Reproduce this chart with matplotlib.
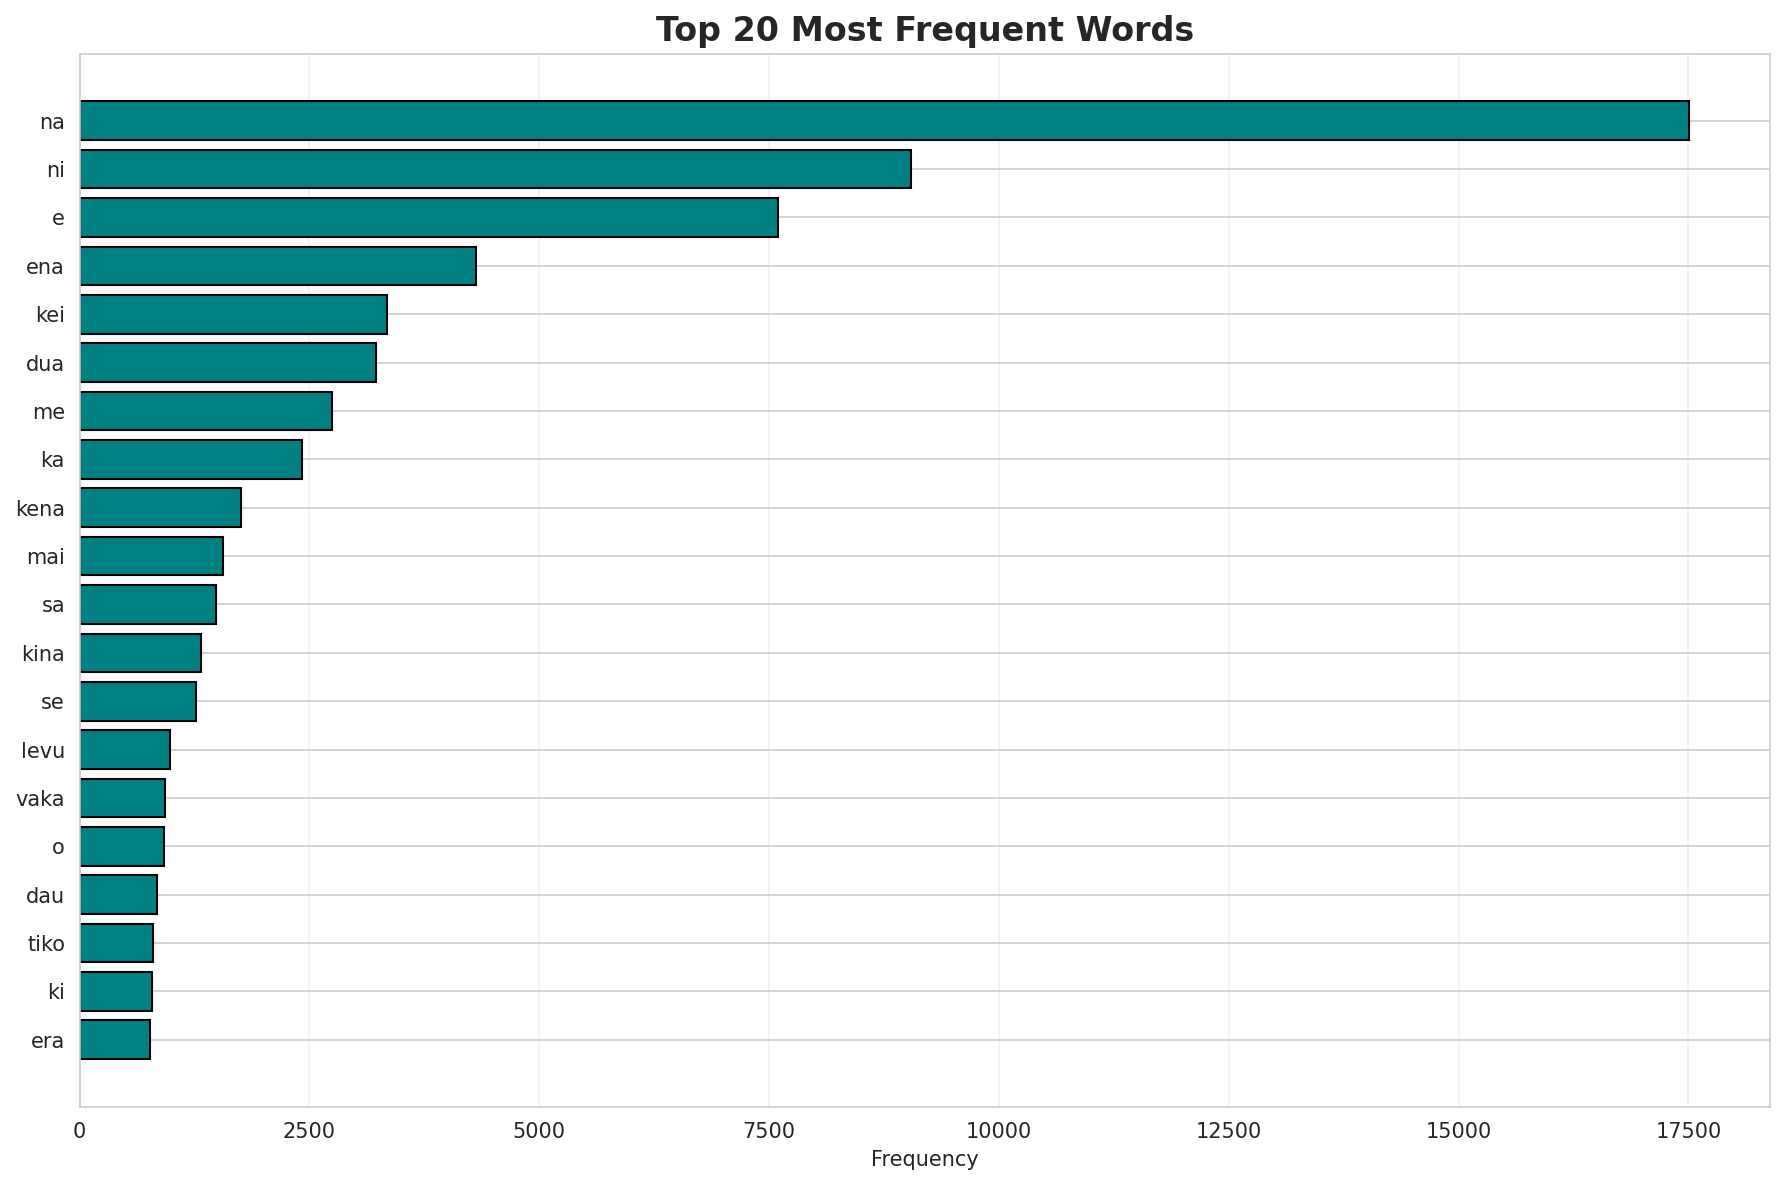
import matplotlib.pyplot as plt
import seaborn as sns

words = ['na', 'ni', 'e', 'ena', 'kei', 'dua', 'me', 'ka', 'kena', 'mai',
         'sa', 'kina', 'se', 'levu', 'vaka', 'o', 'dau', 'tiko', 'ki', 'era']
counts = [17510, 9045, 7600, 4310, 3345, 3220, 2750, 2415, 1757, 1560,
          1487, 1325, 1265, 980, 930, 920, 842, 797, 787, 765]

sns.set_style('whitegrid')

fig, ax = plt.subplots(figsize=(12, 8))
ax.barh(words[::-1], counts[::-1], color='teal', edgecolor='black')
ax.grid(axis='x', alpha=0.3)
ax.set_title('Top 20 Most Frequent Words', fontsize=16, fontweight='bold')
ax.set_xlabel('Frequency')

plt.tight_layout()
plt.savefig('out.png', dpi=150, bbox_inches='tight')
